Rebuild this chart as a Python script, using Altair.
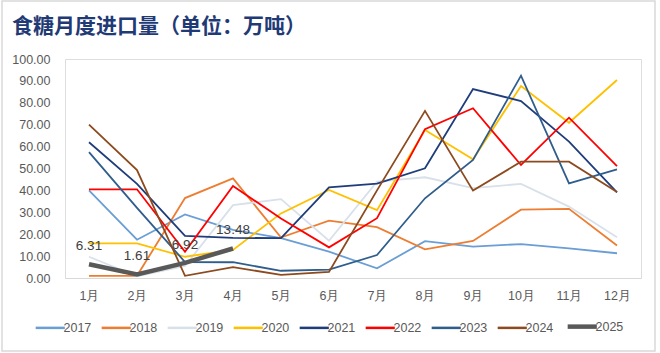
import altair as alt
import pandas as pd

months = ["1月", "2月", "3月", "4月", "5月", "6月", "7月", "8月", "9月", "10月", "11月", "12月"]
years = ["2017", "2018", "2019", "2020", "2021", "2022", "2023", "2024", "2025"]

y2017 = [40.0, 17.5, 29.0, 22.0, 18.2, 12.0, 4.4, 16.8, 14.3, 15.5, 13.5, 11.3]
y2018 = [1.0, 1.0, 36.5, 45.5, 18.5, 26.2, 23.2, 13.1, 16.9, 31.2, 31.6, 14.8]
y2019 = [9.7, 0.8, 5.5, 33.3, 36.0, 17.0, 44.0, 46.0, 41.0, 43.0, 32.6, 18.6]
y2020 = [15.8, 15.8, 9.7, 12.8, 29.5, 40.2, 31.0, 67.6, 54.2, 87.7, 70.9, 90.4]
y2021 = [62.0, 43.0, 19.2, 18.3, 18.2, 41.4, 43.1, 50.1, 86.3, 80.8, 62.3, 39.1]
y2022 = [40.5, 40.5, 12.0, 42.0, 27.2, 14.0, 27.3, 68.0, 77.5, 51.6, 73.2, 51.1]
y2023 = [57.5, 32.0, 7.3, 7.2, 3.3, 3.8, 10.5, 36.4, 53.9, 92.4, 43.2, 49.6]
y2024 = [70.0, 49.3, 1.0, 5.0, 1.4, 2.8, 40.0, 76.3, 39.9, 53.1, 53.1, 39.3]
y2025 = [6.31, 1.61, 6.92, 13.48]

title_text = "食糖月度进口量（单位：万吨）"

series = [y2017, y2018, y2019, y2020, y2021, y2022, y2023, y2024, y2025]
colors = ["#6A9ED4", "#ED7D31", "#D8E0EA", "#FFC000", "#1F3D7A", "#FF0000", "#2F5D8C", "#8C4A1E", "#595959"]

rows = []
for yr, vals in zip(years, series):
    for m, v in zip(months, vals):
        rows.append({"month": m, "year": yr, "value": v})
df = pd.DataFrame(rows)
df25 = df[df["year"] == "2025"].copy()
df25["label"] = df25["value"].map(lambda v: f"{v:.2f}")

x_enc = alt.X("month:N", sort=months, title=None,
              scale=alt.Scale(type="point", padding=0.5),
              axis=alt.Axis(labelAngle=0, labelColor="#595959", labelFontSize=12.5,
                            labelFont="Liberation Sans", labelPadding=11, ticks=False,
                            domainColor="#D9D9D9", domainWidth=1.2, grid=False))
y_enc = alt.Y("value:Q", title=None,
              scale=alt.Scale(domain=[0, 100], nice=False, zero=True),
              axis=alt.Axis(values=list(range(0, 101, 10)), format=".2f", labelColor="#595959",
                            labelFontSize=12.5, labelFont="Liberation Sans", labelPadding=15,
                            labelOverlap=False, ticks=False, domain=False, grid=False))

lines = alt.Chart(df).mark_line(strokeJoin="miter").encode(
    x=x_enc,
    y=y_enc,
    color=alt.Color("year:N", scale=alt.Scale(domain=years, range=colors), title=None,
                    legend=alt.Legend(orient="none", direction="horizontal", legendX=-21, legendY=261,
                                      symbolType="stroke", symbolSize=850,
                                      symbolStrokeWidth={"expr": "datum.value === '2025' ? 4.5 : 2.5"},
                                      labelFontSize=12.5, labelFont="Liberation Sans",
                                      labelColor="#595959", labelOffset=7, columnPadding=4,
                                      columns=9, title=None)),
    strokeWidth=alt.condition(alt.datum.year == "2025", alt.value(4.5), alt.value(1.8)),
    order=alt.Order("year:N"),
)

labels = alt.Chart(df25).mark_text(dy=-18, fontSize=13.5, font="Liberation Sans", color="#404040").encode(
    x=x_enc,
    y=y_enc,
    text="label:N",
)

one = pd.DataFrame({"t": [title_text]})
frame = alt.Chart(one).mark_rect(fill=None, stroke="#D9D9D9", strokeWidth=1.5).encode(
    x=alt.value(-63), x2=alt.value(590), y=alt.value(-58), y2=alt.value(292)
)
title = alt.Chart(one).mark_text(align="left", baseline="alphabetic", fontSize=21, font="Noto Sans CJK SC",
                                 fontWeight="bold", color="#1F3A75").encode(
    x=alt.value(-53), y=alt.value(-26), text="t:N"
)

chart = alt.layer(frame, title, lines, labels).properties(
    width=576,
    height=219,
    autosize=alt.AutoSizeParams(type="none"),
    padding={"left": 65, "top": 59, "right": 19, "bottom": 75},
).configure_view(stroke=None).configure(background="white")

chart.save("out.html", embed_options={"renderer": "svg", "actions": False})
